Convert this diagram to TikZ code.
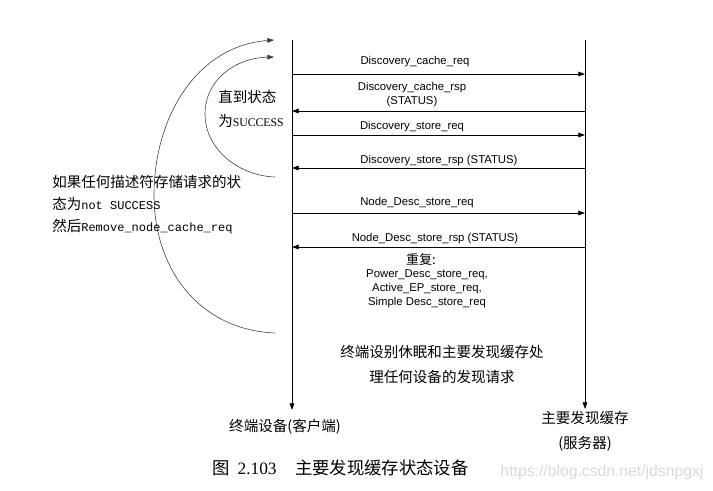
\documentclass[tikz,border=0pt]{standalone}
\usepackage{fontspec}
\setmainfont{Liberation Serif}
\setsansfont{Liberation Sans}
\setmonofont{Liberation Mono}
\newfontfamily\cjk{Noto Sans CJK SC}
\usetikzlibrary{arrows.meta,positioning}

\tikzset{
  msg/.style={font=\sffamily\fontsize{8.5}{10.5}\selectfont, inner sep=0pt},
  zh/.style={font=\cjk\fontsize{10.9}{16.5}\selectfont, inner sep=0pt},
  tip/.style={-{Triangle[length=5pt,width=3.5pt]}},
  life/.style={tip, line width=0.6pt},
  call/.style={tip, line width=0.6pt},
  loopline/.style={tip, line width=0.45pt, black!75},
}

\begin{document}
\begin{tikzpicture}[x=0.75pt, y=-0.75pt]

        \useasboundingbox (0,0) rectangle (713,491);

        % Lifelines (client left, server right)
        \coordinate (clientTop) at (292,40);
        \coordinate (clientEnd) at (292,410);
        \coordinate (serverTop) at (585,40);
        \coordinate (serverEnd) at (585,409);

        \draw[life] (clientTop) -- (clientEnd);
        \draw[life] (serverTop) -- (serverEnd);

        \node[zh] (client) at (285,427) {终端设备(客户端)};
        \node[zh, align=center, font=\cjk\fontsize{10.9}{18.75}\selectfont] (server) at (585,431) {主要发现缓存\\(服务器)};

        % Message end points on the lifelines
        \foreach \n/\y in {1/74, 2/111, 3/135, 4/168, 5/213, 6/247} {
            \coordinate (c\n) at (292,\y);
            \coordinate (s\n) at (585,\y);
        }

        % Messages
        \draw[call] (c1) -- (s1);
        \draw[call] (s2) -- (c2);
        \draw[call] (c3) -- (s3);
        \draw[call] (s4) -- (c4);
        \draw[call] (c5) -- (s5);
        \draw[call] (s6) -- (c6);

        \node[msg] (creq) at (415,62) {Discovery\_cache\_req};
        \node[msg, align=center] (crsp) at (412,95) {Discovery\_cache\_rsp\\(STATUS)};
        \node[msg] (sreq) at (412,127) {Discovery\_store\_req};
        \node[msg] (srsp) at (439,161) {Discovery\_store\_rsp (STATUS)};
        \node[msg] (nreq) at (417,203) {Node\_Desc\_store\_req};
        \node[msg] (nrsp) at (435,239) {Node\_Desc\_store\_rsp (STATUS)};

        % Repeated requests
        \node[zh, font=\cjk\fontsize{9.75}{12}\selectfont] (rep) at (421,260) {重复:};
        \node[msg, align=center] (replist) at (427,289) {Power\_Desc\_store\_req,\\Active\_EP\_store\_req,\\Simple Desc\_store\_req};

        % Loops
        \coordinate (outerEnd) at (275,333);
        \coordinate (outerLeft) at (154,195);
        \coordinate (outerTop) at (274,40);
        \coordinate (innerEnd) at (275,177);
        \coordinate (innerLeft) at (205,114);
        \coordinate (innerTop) at (274,57);

        \draw[loopline] (outerEnd) .. controls (200,330) and (154,270) .. (outerLeft)
            .. controls (154,118) and (196,46) .. (outerTop);
        \draw[loopline] (innerEnd) .. controls (240,176) and (205,150) .. (innerLeft)
            .. controls (205,80) and (235,58) .. (innerTop);

        \node[zh, align=left, anchor=west, font=\cjk\fontsize{10.9}{18}\selectfont] (until) at (218,109)
            {直到状态\\为{\rmfamily\fontsize{8.8}{10}\selectfont SUCCESS}};
        \node[zh, align=left, anchor=west] (fail) at (52,205)
            {如果任何描述符存储请求的状\\态为{\ttfamily\fontsize{9}{10}\selectfont not SUCCESS}\\然后{\ttfamily\fontsize{9}{10}\selectfont Remove\_node\_cache\_req}};

        % Sleep note
        \node[zh, align=center, font=\cjk\fontsize{10.9}{18.75}\selectfont] (sleep) at (442,364.5)
            {终端设别休眠和主要发现缓存处\\理任何设备的发现请求};

        % Caption
        \node[inner sep=0pt, anchor=west, font=\fontsize{13}{15}\selectfont] (caption) at (212,468)
            {{\cjk 图}\hspace{6pt}2.103\hspace{14pt}{\cjk 主要发现缓存状态设备}};
        \node[inner sep=0pt, font=\sffamily\fontsize{11.8}{14}\selectfont, text=black!15] (mark) at (602,472)
            {https://blog.csdn.net/jdsnpgxj};

\end{tikzpicture}
\end{document}
